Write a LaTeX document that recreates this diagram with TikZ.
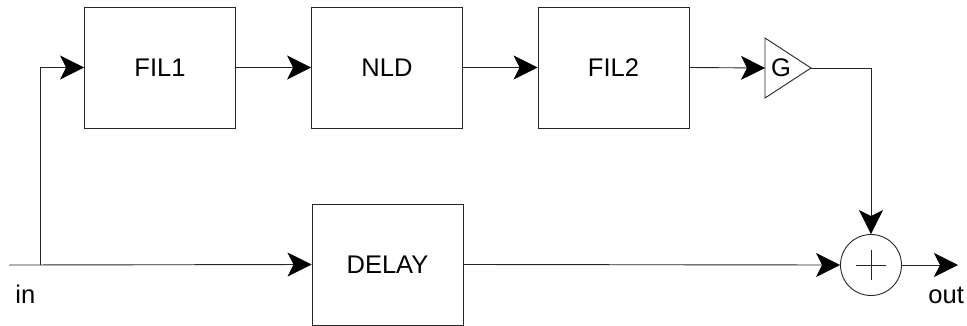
\documentclass[tikz,border=0pt]{standalone}
\usepackage{fontspec}
\setmainfont{Liberation Sans}
\usetikzlibrary{arrows.meta}
\begin{document}
\begin{tikzpicture}[x=1pt,y=-1pt,
  line width=0.9pt,
  ln/.style={draw=black!85},
  blk/.style={draw=black!85, fill=white, rectangle, inner sep=0pt,
    minimum width=151pt, minimum height=121pt, font=\fontsize{25.5}{30}\selectfont},
  lbl/.style={inner sep=0pt, font=\fontsize{25.5}{30}\selectfont},
  arr/.style={draw=black!85, -{Stealth[length=24pt,width=24pt,inset=6pt,color=black,fill=black]}},
]
\useasboundingbox (0,0) rectangle (967,325);
% blocks
\node[blk] (fil1) at (160,67.5) {FIL1};
\node[blk] (nld) at (387,67.5) {NLD};
\node[blk] (fil2) at (613.5,67.5) {FIL2};
\node[blk] (delay) at (387.5,264.5) {DELAY};
% gain triangle
\coordinate (gin) at (765,68);
\coordinate (gtip) at (811,68);
\draw[ln] (765,38) -- (gtip) -- (765,98) -- cycle;
\node[lbl] (g) at (781,68) {G};
% adder
\node[circle, draw=black!85, inner sep=0pt, minimum size=61pt] (sum) at (871,265) {};
\draw[ln] ([xshift=-15pt]sum.center) -- ([xshift=15pt]sum.center);
\draw[ln] ([yshift=-15pt]sum.center) -- ([yshift=15pt]sum.center);
% terminals
\coordinate (inpt) at (9,265);
\coordinate (br) at (40,265);
\coordinate (outpt) at (958,265);
\node[lbl, anchor=base west] (inlbl) at (15,303) {in};
\node[lbl, anchor=base west] (outlbl) at (928,303) {out};
% connectors
\draw[arr] (inpt) -- (delay.west);
\draw[arr] (br) |- (fil1.west);
\draw[arr] (fil1.east) -- (nld.west);
\draw[arr] (nld.east) -- (fil2.west);
\draw[arr] (fil2.east) -- (gin);
\draw[arr] (gtip) -| (sum.north);
\draw[arr] (delay.east) -- (sum.west);
\draw[arr] (sum.east) -- (outpt);
\end{tikzpicture}
\end{document}
